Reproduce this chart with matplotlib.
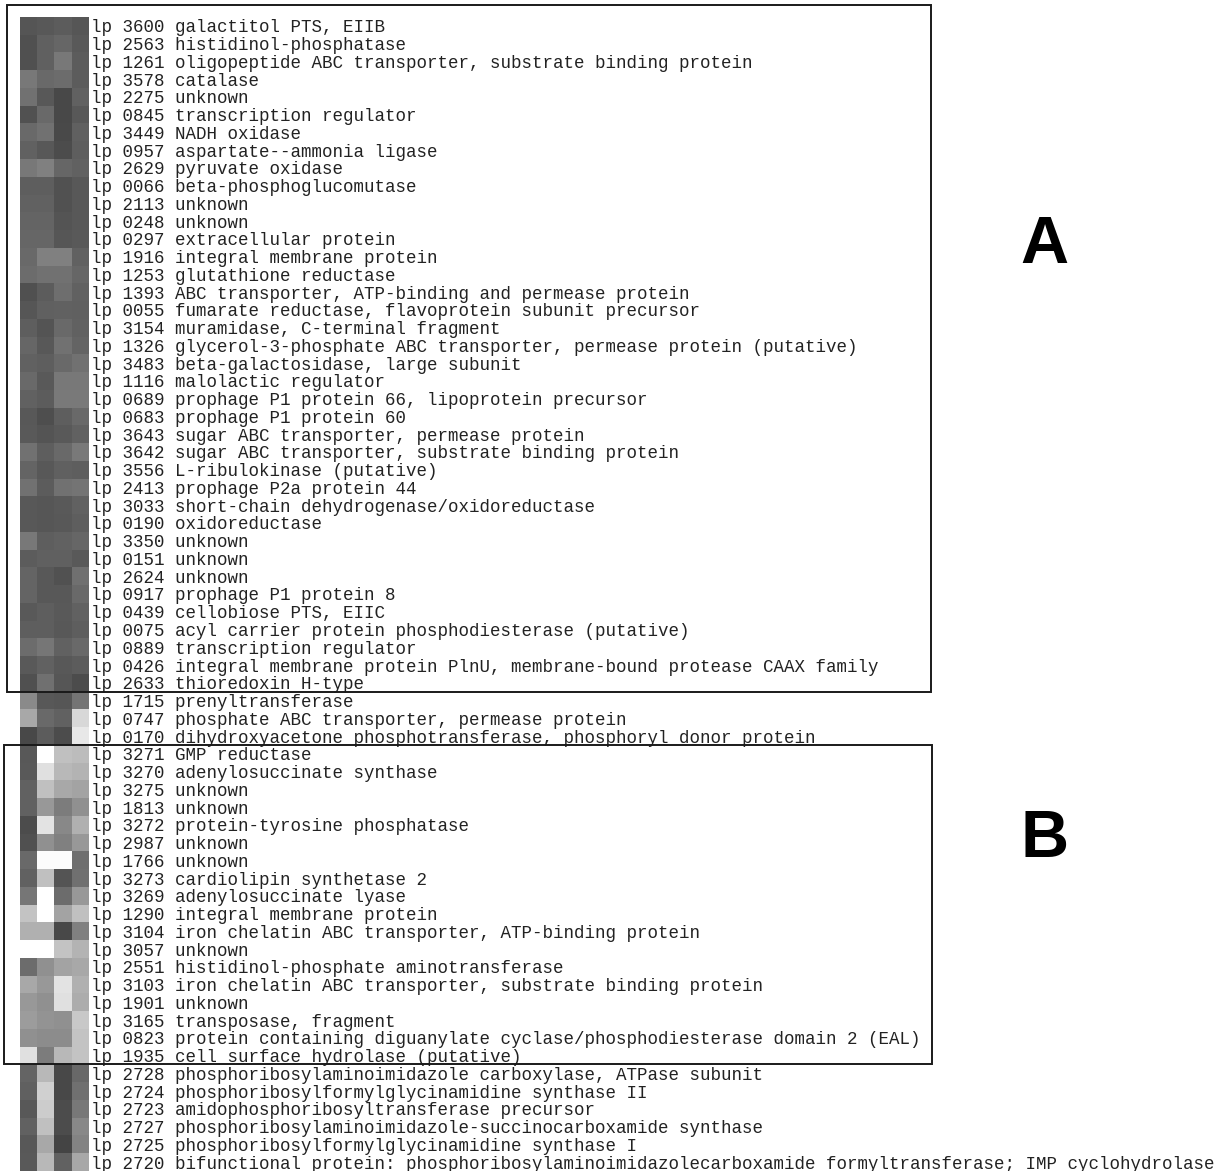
import numpy as np
import matplotlib
matplotlib.use("Agg")
import matplotlib.pyplot as plt
from matplotlib.patches import Rectangle

genes = [
    "lp 3600 galactitol PTS, EIIB",
    "lp 2563 histidinol-phosphatase",
    "lp 1261 oligopeptide ABC transporter, substrate binding protein",
    "lp 3578 catalase",
    "lp 2275 unknown",
    "lp 0845 transcription regulator",
    "lp 3449 NADH oxidase",
    "lp 0957 aspartate--ammonia ligase",
    "lp 2629 pyruvate oxidase",
    "lp 0066 beta-phosphoglucomutase",
    "lp 2113 unknown",
    "lp 0248 unknown",
    "lp 0297 extracellular protein",
    "lp 1916 integral membrane protein",
    "lp 1253 glutathione reductase",
    "lp 1393 ABC transporter, ATP-binding and permease protein",
    "lp 0055 fumarate reductase, flavoprotein subunit precursor",
    "lp 3154 muramidase, C-terminal fragment",
    "lp 1326 glycerol-3-phosphate ABC transporter, permease protein (putative)",
    "lp 3483 beta-galactosidase, large subunit",
    "lp 1116 malolactic regulator",
    "lp 0689 prophage P1 protein 66, lipoprotein precursor",
    "lp 0683 prophage P1 protein 60",
    "lp 3643 sugar ABC transporter, permease protein",
    "lp 3642 sugar ABC transporter, substrate binding protein",
    "lp 3556 L-ribulokinase (putative)",
    "lp 2413 prophage P2a protein 44",
    "lp 3033 short-chain dehydrogenase/oxidoreductase",
    "lp 0190 oxidoreductase",
    "lp 3350 unknown",
    "lp 0151 unknown",
    "lp 2624 unknown",
    "lp 0917 prophage P1 protein 8",
    "lp 0439 cellobiose PTS, EIIC",
    "lp 0075 acyl carrier protein phosphodiesterase (putative)",
    "lp 0889 transcription regulator",
    "lp 0426 integral membrane protein PlnU, membrane-bound protease CAAX family",
    "lp 2633 thioredoxin H-type",
    "lp 1715 prenyltransferase",
    "lp 0747 phosphate ABC transporter, permease protein",
    "lp 0170 dihydroxyacetone phosphotransferase, phosphoryl donor protein",
    "lp 3271 GMP reductase",
    "lp 3270 adenylosuccinate synthase",
    "lp 3275 unknown",
    "lp 1813 unknown",
    "lp 3272 protein-tyrosine phosphatase",
    "lp 2987 unknown",
    "lp 1766 unknown",
    "lp 3273 cardiolipin synthetase 2",
    "lp 3269 adenylosuccinate lyase",
    "lp 1290 integral membrane protein",
    "lp 3104 iron chelatin ABC transporter, ATP-binding protein",
    "lp 3057 unknown",
    "lp 2551 histidinol-phosphate aminotransferase",
    "lp 3103 iron chelatin ABC transporter, substrate binding protein",
    "lp 1901 unknown",
    "lp 3165 transposase, fragment",
    "lp 0823 protein containing diguanylate cyclase/phosphodiesterase domain 2 (EAL)",
    "lp 1935 cell surface hydrolase (putative)",
    "lp 2728 phosphoribosylaminoimidazole carboxylase, ATPase subunit",
    "lp 2724 phosphoribosylformylglycinamidine synthase II",
    "lp 2723 amidophosphoribosyltransferase precursor",
    "lp 2727 phosphoribosylaminoimidazole-succinocarboxamide synthase",
    "lp 2725 phosphoribosylformylglycinamidine synthase I",
    "lp 2720 bifunctional protein: phosphoribosylaminoimidazolecarboxamide formyltransferase; IMP cyclohydrolase",
]

# gray level (0 = black, 255 = white) per condition column
cond1 = [0x55, 0x50, 0x50, 0x78, 0x72, 0x52, 0x6a, 0x62, 0x78, 0x5e,
         0x62, 0x64, 0x66, 0x6a, 0x6c, 0x50, 0x56, 0x5e, 0x66, 0x62, 0x6a,
         0x62, 0x58, 0x5a, 0x72, 0x64, 0x72, 0x58, 0x58, 0x78, 0x5c, 0x64,
         0x64, 0x5a, 0x5e, 0x6c, 0x5a, 0x50, 0x8a, 0xa8, 0x48, 0x58, 0x5a,
         0x62, 0x62, 0x4c, 0x50, 0x6a, 0x62, 0x76, 0xc4, 0xb0, 0xff, 0x6c,
         0xa8, 0x98, 0x9c, 0x90, 0xe0, 0x64, 0x60, 0x58, 0x62, 0x58, 0x5a]
cond2 = [0x58, 0x60, 0x60, 0x6a, 0x58, 0x6a, 0x72, 0x58, 0x80, 0x5e,
         0x62, 0x64, 0x66, 0x80, 0x72, 0x5c, 0x60, 0x54, 0x58, 0x5e, 0x5a,
         0x5c, 0x4e, 0x54, 0x5e, 0x58, 0x5c, 0x56, 0x56, 0x5e, 0x60, 0x58,
         0x58, 0x5e, 0x5e, 0x76, 0x62, 0x70, 0x58, 0x6a, 0x5c, 0xff, 0xe0,
         0xc0, 0x98, 0xe4, 0x90, 0xfc, 0xc0, 0xff, 0xff, 0xb0, 0xff, 0x90,
         0x98, 0x90, 0x94, 0x8c, 0x7c, 0xb8, 0xd0, 0xcc, 0xc0, 0xa8, 0xb8]
cond3 = [0x5c, 0x66, 0x78, 0x6c, 0x48, 0x48, 0x4a, 0x4c, 0x66, 0x52,
         0x52, 0x54, 0x56, 0x80, 0x72, 0x6e, 0x62, 0x6a, 0x72, 0x6a, 0x78,
         0x7a, 0x5e, 0x5a, 0x6a, 0x60, 0x72, 0x5a, 0x58, 0x62, 0x60, 0x52,
         0x58, 0x5a, 0x58, 0x62, 0x58, 0x56, 0x56, 0x62, 0x4c, 0xc0, 0xb8,
         0xa8, 0x7c, 0x88, 0x80, 0xfc, 0x54, 0x6c, 0xa4, 0x48, 0xc4, 0xa4,
         0xe4, 0xe0, 0x90, 0x8c, 0xb8, 0x48, 0x48, 0x4c, 0x4c, 0x44, 0x62]
cond4 = [0x56, 0x5a, 0x5c, 0x5c, 0x62, 0x58, 0x60, 0x5e, 0x62, 0x58,
         0x58, 0x58, 0x5a, 0x62, 0x66, 0x62, 0x60, 0x62, 0x64, 0x72, 0x78,
         0x7a, 0x6a, 0x62, 0x7a, 0x5e, 0x74, 0x62, 0x5e, 0x66, 0x5a, 0x70,
         0x6a, 0x62, 0x5e, 0x6a, 0x5c, 0x4c, 0x74, 0xd8, 0xe8, 0xbc, 0xb4,
         0xa4, 0x90, 0xb0, 0x98, 0x6e, 0x70, 0x98, 0xc0, 0x80, 0xb4, 0xa8,
         0xb0, 0xac, 0xc8, 0xc4, 0xc4, 0x68, 0x70, 0x78, 0x88, 0x84, 0xa8]

# clusters: (label, first row, last row) 0-based inclusive
clusters = [("A", 0, 37), ("B", 41, 58)]

W, H = 1227, 1171
fig = plt.figure(figsize=(W / 100, H / 100), dpi=100)
fig.patch.set_facecolor("white")

# heatmap geometry (pixels)
hx0, hx1, hy0, hy1 = 20, 89, 17, 1171
ax = fig.add_axes([hx0 / W, 1 - hy1 / H, (hx1 - hx0) / W, (hy1 - hy0) / H])
data = np.array([cond1, cond2, cond3, cond4]).T
ax.imshow(data, cmap="gray", vmin=0, vmax=255, aspect="auto",
          interpolation="nearest")
ax.set_xticks([])
ax.set_yticks(range(len(genes)))
ax.set_yticklabels(genes, family="Liberation Mono", fontsize=12.65,
                   color="#222222")
ax.yaxis.tick_right()
ax.tick_params(axis="y", length=0, pad=1.5)
for s in ax.spines.values():
    s.set_visible(False)

# overlay for boxes and cluster letters (pixel coordinates)
ov = fig.add_axes([0, 0, 1, 1], zorder=5)
ov.set_xlim(0, W)
ov.set_ylim(H, 0)
ov.axis("off")
ov.patch.set_alpha(0)
row_h = (hy1 - hy0) / len(genes)
box_x = {"A": (7, 931), "B": (4, 932)}
letter_pos = {"A": (1044, 246), "B": (1045, 840)}
for lab, r0, r1 in clusters:
    y0 = hy0 + r0 * row_h
    y1 = hy0 + (r1 + 1) * row_h
    if lab == "A":
        y0 = 5
    x0, x1 = box_x[lab]
    ov.add_patch(Rectangle((x0, y0), x1 - x0, y1 - y0, fill=False,
                           edgecolor="#1a1a1a", linewidth=1.4))
    lx, ly = letter_pos[lab]
    ov.text(lx, ly, lab, fontsize=48, fontweight="bold",
            family="Liberation Sans", ha="center", va="center", color="black")

fig.savefig("out.png", dpi=100, facecolor="white")
